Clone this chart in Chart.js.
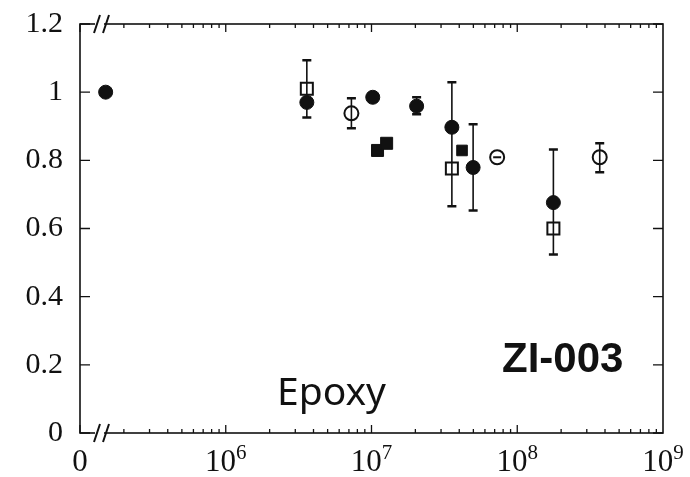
<!DOCTYPE html>
<html>
<head>
<meta charset="utf-8">
<script src="https://cdn.jsdelivr.net/npm/chart.js@4.4.1/dist/chart.umd.min.js"></script>
<style>
  html, body { margin: 0; padding: 0; background: #fff; }
  #wrap { width: 690px; height: 477px; }
</style>
</head>
<body>
<div id="wrap"><canvas id="chart"></canvas></div>
<script>
// cycles (0 cycles is placed at the left end, behind the axis break) vs. normalized value
const filledCircleX = [1.5e5, 3.6e6, 1.02e7, 2.04e7, 3.56e7, 4.98e7, 1.77e8];
const filledCircleY = [1.0, 0.97, 0.985, 0.959, 0.897, 0.779, 0.676];

const openCircleX = [7.28e6, 3.68e8];
const openCircleY = [0.938, 0.809];

const barredCircleX = [7.28e7];
const barredCircleY = [0.809];

const openSquareX = [3.6e6, 3.56e7, 1.77e8];
const openSquareY = [1.01, 0.776, 0.6];

const filledSquareX = [1.1e7, 1.27e7, 4.18e7];
const filledSquareY = [0.829, 0.85, 0.829];
const filledSquareSize = [8.5, 8.5, 7.5];

// scatter bands
const errorBarX = [3.6e6, 7.28e6, 2.04e7, 3.56e7, 4.98e7, 1.77e8, 3.68e8];
const errorBarLow = [0.926, 0.894, 0.935, 0.665, 0.653, 0.524, 0.765];
const errorBarHigh = [1.094, 0.982, 0.985, 1.029, 0.906, 0.832, 0.85];

const xTickValues = [1e5, 1e6, 1e7, 1e8, 1e9];
const xTickBase = ['0', '10', '10', '10', '10'];
const xTickExp = ['', '6', '7', '8', '9'];

const ink = '#111';
const serif = '"Liberation Serif", "DejaVu Serif", serif';

const pts = (xs, ys) => xs.map((x, i) => ({ x, y: ys[i] }));

const errorBars = {
    id: 'errorBars',
    beforeDatasetsDraw(chart) {
        const { ctx, scales: { x, y } } = chart;
        ctx.save();
        ctx.strokeStyle = ink;
        errorBarX.forEach((v, i) => {
            const px = x.getPixelForValue(v);
            const lo = y.getPixelForValue(errorBarLow[i]);
            const hi = y.getPixelForValue(errorBarHigh[i]);
            ctx.lineWidth = 1.6;
            ctx.beginPath(); ctx.moveTo(px, lo); ctx.lineTo(px, hi); ctx.stroke();
            ctx.lineWidth = 2.5;
            ctx.beginPath();
            ctx.moveTo(px - 4.5, lo); ctx.lineTo(px + 4.5, lo);
            ctx.moveTo(px - 4.5, hi); ctx.lineTo(px + 4.5, hi);
            ctx.stroke();
        });
        ctx.restore();
    }
};

// box frame with inward ticks, axis breaks, x labels with exponents, and the two captions
const frame = {
    id: 'frame',
    afterDraw(chart) {
        const { ctx, chartArea: a, scales: { x, y } } = chart;
        ctx.save();
        ctx.strokeStyle = ink;
        ctx.lineWidth = 1.6;
        ctx.strokeRect(a.left, a.top, a.right - a.left, a.bottom - a.top);

        ctx.lineWidth = 1.3;
        ctx.beginPath();
        for (let d = 5; d < 9; d++) {
            for (let k = 1; k <= 9; k++) {
                const px = x.getPixelForValue(k * Math.pow(10, d));
                const len = k === 1 ? 8 : 4;
                ctx.moveTo(px, a.bottom); ctx.lineTo(px, a.bottom - len);
                ctx.moveTo(px, a.top); ctx.lineTo(px, a.top + len);
            }
        }
        y.ticks.forEach(t => {
            const py = y.getPixelForValue(t.value);
            const len = Math.round(t.value * 10) % 2 === 0 ? 10 : 5;
            ctx.moveTo(a.left, py); ctx.lineTo(a.left + len, py);
            ctx.moveTo(a.right, py); ctx.lineTo(a.right - len, py);
        });
        ctx.stroke();

        // axis break marks
        ctx.lineWidth = 2;
        [a.top, a.bottom].forEach(py => {
            ctx.fillStyle = '#fff';
            ctx.fillRect(a.left + 15, py - 2, 9, 4);
            ctx.beginPath();
            [a.left + 17, a.left + 26].forEach(bx => {
                ctx.moveTo(bx - 3, py + 9); ctx.lineTo(bx + 3, py - 9);
            });
            ctx.stroke();
        });

        ctx.fillStyle = ink;
        ctx.textBaseline = 'alphabetic';
        ctx.textAlign = 'left';
        xTickValues.forEach((v, i) => {
            const px = x.getPixelForValue(v);
            ctx.font = `31px ${serif}`;
            const w1 = ctx.measureText(xTickBase[i]).width;
            ctx.font = `21px ${serif}`;
            const w2 = xTickExp[i] ? ctx.measureText(xTickExp[i]).width : 0;
            const start = px - (w1 + w2) / 2;
            ctx.font = `31px ${serif}`;
            ctx.fillText(xTickBase[i], start, a.bottom + 38);
            if (xTickExp[i]) {
                ctx.font = `21px ${serif}`;
                ctx.fillText(xTickExp[i], start + w1, a.bottom + 26);
            }
        });

        ctx.font = 'bold 42px "Liberation Sans", Arial, sans-serif';
        ctx.fillText('ZI-003', 502, 372);
        ctx.font = '39px "Noto Sans", "Open Sans", sans-serif';
        ctx.fillText('Epoxy', 277, 405);
        ctx.restore();
    }
};

new Chart(document.getElementById('chart'), {
    type: 'scatter',
    data: {
        datasets: [
            { data: pts(filledCircleX, filledCircleY), pointStyle: 'circle', pointRadius: 7,
              backgroundColor: ink, borderColor: ink, borderWidth: 1 },
            { data: pts(openCircleX, openCircleY), pointStyle: 'circle', pointRadius: 7,
              backgroundColor: 'rgba(0,0,0,0)', borderColor: ink, borderWidth: 2 },
            { data: pts(barredCircleX, barredCircleY), pointStyle: 'circle', pointRadius: 7,
              backgroundColor: 'rgba(0,0,0,0)', borderColor: ink, borderWidth: 2 },
            { data: pts(barredCircleX, barredCircleY), pointStyle: 'line', pointRadius: 4,
              borderColor: ink, borderWidth: 2 },
            { data: pts(openSquareX, openSquareY), pointStyle: 'rect', pointRadius: 8.5,
              backgroundColor: 'rgba(0,0,0,0)', borderColor: ink, borderWidth: 2 },
            { data: pts(filledSquareX, filledSquareY), pointStyle: 'rect', pointRadius: filledSquareSize,
              backgroundColor: ink, borderColor: ink, borderWidth: 1 }
        ]
    },
    options: {
        responsive: true,
        maintainAspectRatio: false,
        animation: false,
        layout: { padding: { top: 24, right: 27, left: 0, bottom: 0 } },
        plugins: { legend: { display: false }, tooltip: { enabled: false } },
        scales: {
            x: {
                type: 'logarithmic', min: 1e5, max: 1e9,
                grid: { display: false }, border: { display: false },
                ticks: { display: false },
                afterFit: s => { s.height = 44; s.paddingLeft = 0; s.paddingRight = 0; }
            },
            y: {
                min: 0, max: 1.2,
                grid: { display: false }, border: { display: false },
                ticks: {
                    stepSize: 0.1, padding: 9, color: ink,
                    font: { family: serif, size: 30 },
                    callback: v => {
                        const n = Math.round(v * 10);
                        if (n % 2 !== 0) return '';
                        return n === 0 ? '0' : n === 10 ? '1' : (n / 10).toFixed(1);
                    }
                },
                afterFit: s => { s.width = 80; s.paddingTop = 0; s.paddingBottom = 0; }
            }
        }
    },
    plugins: [errorBars, frame]
});
</script>
</body>
</html>
